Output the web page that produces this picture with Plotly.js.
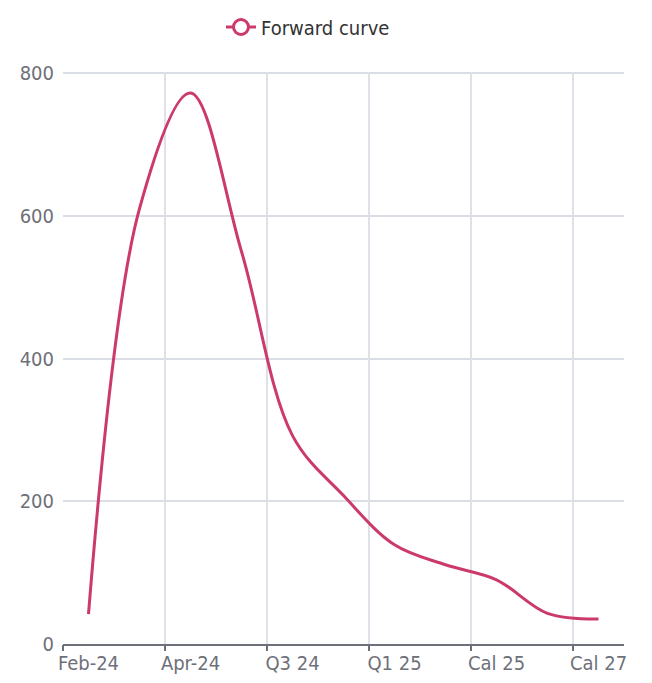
<!DOCTYPE html>
<html>
<head>
<meta charset="utf-8">
<script src="https://cdn.plot.ly/plotly-3.0.1.min.js"></script>
<style>html,body{margin:0;padding:0;background:#fff}#chart{width:652px;height:683px}</style>
</head>
<body>
<div id="chart"></div>
<script>
// Data
const categories = ["Feb-24","Mar-24","Apr-24","May-24","Q3 24","Q4 24","Q1 25","Q2 25","Cal 25","Cal 26","Cal 27"];
const forwardCurve = [42, 610, 772, 550, 292, 208, 139, 111, 90, 43, 35];
const shownLabels = ["Feb-24","Apr-24","Q3 24","Q1 25","Cal 25","Cal 27"];
const yTicks = [0, 200, 400, 600, 800];
const seriesName = "Forward curve";

const lineColor = "#cc3a6b";
const font = "'Liberation Sans Narrow', 'DejaVu Sans Condensed', sans-serif";

// band boundaries for every other category (grid + ticks)
const boundaries = categories.map((c, i) => i).filter(i => i % 2 === 0).map(i => i - 0.5);

const traces = [
  {
    x: categories, y: forwardCurve, type: 'scatter', mode: 'lines',
    line: {color: lineColor, width: 3, shape: 'spline', smoothing: 1},
    showlegend: false, name: seriesName, hoverinfo: 'x+y'
  },
  {
    x: [null], y: [null], type: 'scatter', mode: 'lines+markers', name: seriesName,
    line: {color: lineColor, width: 3},
    marker: {symbol: 'circle', size: 15, color: '#ffffff', line: {color: lineColor, width: 3}},
    showlegend: true
  },
  {
    x: [null], y: [null], type: 'scatter', mode: 'lines', xaxis: 'x2', yaxis: 'y',
    showlegend: false, hoverinfo: 'skip'
  }
];

const layout = {
  width: 652, height: 683,
  margin: {l: 63, r: 28, t: 72, b: 39, pad: 0},
  paper_bgcolor: '#ffffff', plot_bgcolor: '#ffffff',
  font: {family: font, size: 20, color: '#6e7079'},
  showlegend: true,
  legend: {
    orientation: 'h', xref: 'container', yref: 'container',
    x: 308/652, xanchor: 'center', y: 1 - 27/683, yanchor: 'middle',
    font: {family: font, size: 20, color: '#333333'},
    itemwidth: 30
  },
  xaxis: {
    type: 'category', categoryorder: 'array', categoryarray: categories,
    range: [-0.5, categories.length - 0.5],
    tickmode: 'array', tickvals: shownLabels, ticktext: shownLabels,
    ticks: '', showgrid: false, zeroline: false,
    showline: true, linecolor: '#6e7079', linewidth: 2,
    tickfont: {family: font, size: 20, color: '#6e7079'},
    fixedrange: true
  },
  xaxis2: {
    overlaying: 'x', anchor: 'y', side: 'bottom', type: 'linear',
    range: [-0.5, categories.length - 0.5],
    tickmode: 'array', tickvals: boundaries, showticklabels: false,
    ticks: 'outside', ticklen: 6, tickwidth: 2, tickcolor: '#6e7079',
    showgrid: true, gridcolor: '#dfe1e8', gridwidth: 1.5,
    zeroline: false, showline: false, fixedrange: true
  },
  yaxis: {
    range: [0, 801.5], tickmode: 'array', tickvals: yTicks,
    showgrid: true, gridcolor: '#dcdee6', gridwidth: 2,
    zeroline: false, showline: false, ticks: '',
    ticklabelstandoff: 8,
    tickfont: {family: font, size: 20, color: '#6e7079'},
    fixedrange: true
  }
};

Plotly.newPlot('chart', traces, layout, {displayModeBar: false, staticPlot: true});
</script>
</body>
</html>
